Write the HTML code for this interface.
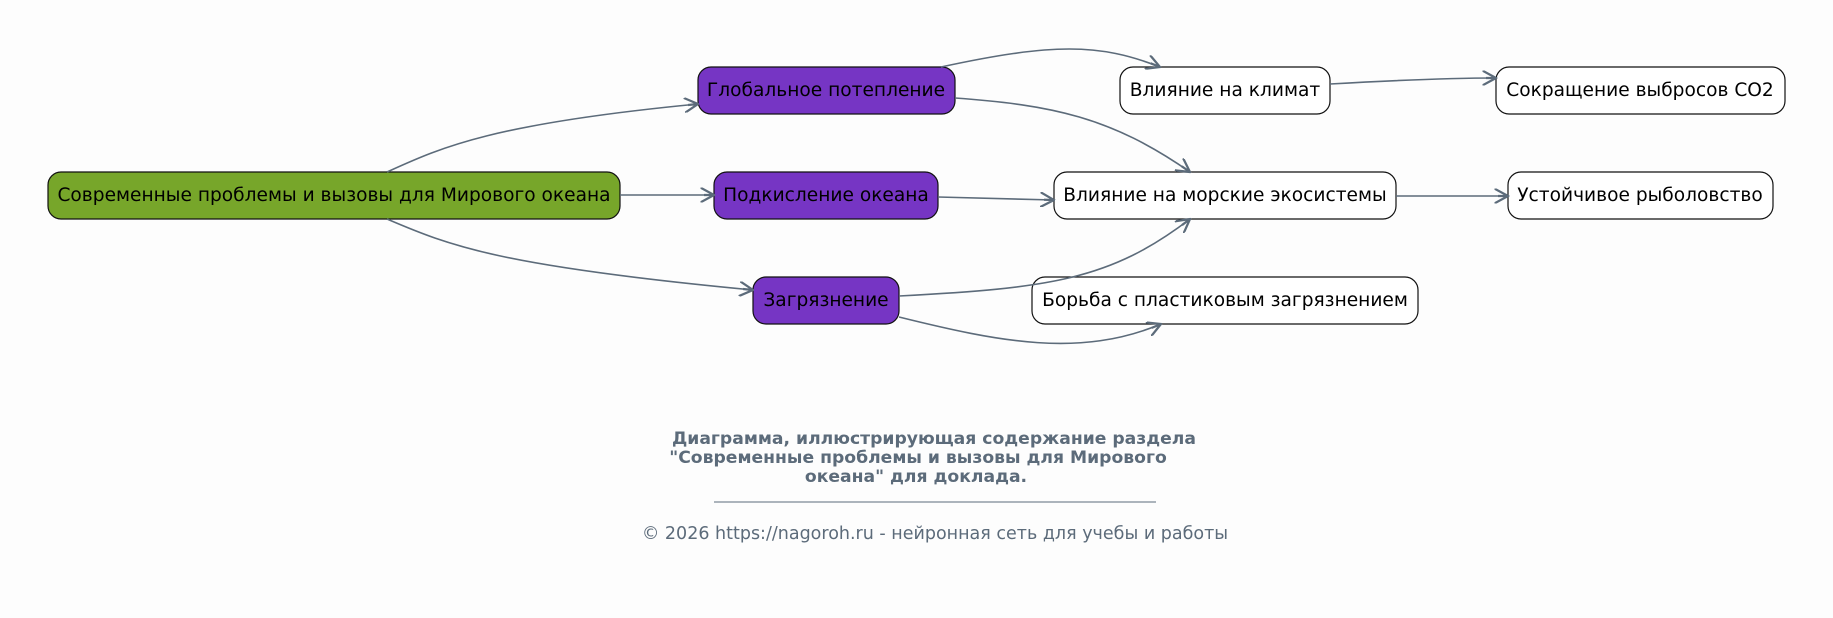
<!DOCTYPE html>
<html><head><meta charset="utf-8"><style>
html,body{margin:0;padding:0;background:#fdfdfd;}
svg{display:block;font-family:"DejaVu Sans","Liberation Sans",sans-serif;}
</style></head><body>
<svg width="1833" height="618" viewBox="0 0 1833 618">
<defs>
<marker id="a" viewBox="0 0 12 12" refX="11" refY="6" markerWidth="15" markerHeight="15" markerUnits="userSpaceOnUse" orient="auto">
<path d="M0,0 L11,6 L0,12 M11,6 L3,6" fill="none" stroke="#5c6b7a" stroke-width="1.8"/>
</marker>
</defs>
<g stroke="#111" stroke-width="1.2">
<rect x="48" y="172" width="572" height="47" rx="13" fill="#77a62a"/>
<rect x="698" y="67" width="257" height="47" rx="13" fill="#7635c4"/>
<rect x="714" y="172" width="224" height="47" rx="13" fill="#7635c4"/>
<rect x="753" y="277" width="146" height="47" rx="13" fill="#7635c4"/>
<rect x="1120" y="67" width="210" height="47" rx="13" fill="#fff"/>
<rect x="1054" y="172" width="342" height="47" rx="13" fill="#fff"/>
<rect x="1032" y="277" width="386" height="47" rx="13" fill="#fff"/>
<rect x="1496" y="67" width="289" height="47" rx="13" fill="#fff"/>
<rect x="1508" y="172" width="265" height="47" rx="13" fill="#fff"/>
</g>
<g fill="none" stroke="#5c6b7a" stroke-width="1.6" marker-end="url(#a)">
<path d="M387,172 C440,148 490,124 698,104"/>
<path d="M620,195 L714,195"/>
<path d="M387,219 C450,246 500,266 753,290"/>
<path d="M941,67 C1052,43 1099,43 1160,67"/>
<path d="M955,98 C1052,105 1111,117 1190,172"/>
<path d="M938,197 L1054,200"/>
<path d="M899,296 C1050,288 1110,280 1190,219"/>
<path d="M899,317 C1000,342 1080,358 1161,324"/>
<path d="M1330,84 C1400,80 1450,78 1496,78"/>
<path d="M1396,196 L1508,196"/>
</g>
<g font-size="18.6" fill="#000" text-anchor="middle">
<text x="334" y="201">Современные проблемы и вызовы для Мирового океана</text>
<text x="826" y="96">Глобальное потепление</text>
<text x="826" y="201">Подкисление океана</text>
<text x="826" y="306">Загрязнение</text>
<text x="1225" y="96">Влияние на климат</text>
<text x="1225" y="201">Влияние на морские экосистемы</text>
<text x="1225" y="306">Борьба с пластиковым загрязнением</text>
<text x="1640" y="96">Сокращение выбросов CO2</text>
<text x="1640" y="201">Устойчивое рыболовство</text>
</g>
<g font-size="17.2" font-weight="bold" fill="#5c6b7a" text-anchor="middle">
<text x="934" y="444">Диаграмма, иллюстрирующая содержание раздела</text>
<text x="918" y="463">"Современные проблемы и вызовы для Мирового</text>
<text x="916" y="482">океана" для доклада.</text>
</g>
<line x1="714" y1="502" x2="1156" y2="502" stroke="#5c6b7a" stroke-width="1"/>
<text x="935" y="539" font-size="17.5" fill="#5c6b7a" text-anchor="middle">© 2026 https://nagoroh.ru - нейронная сеть для учебы и работы</text>
</svg>
</body></html>
